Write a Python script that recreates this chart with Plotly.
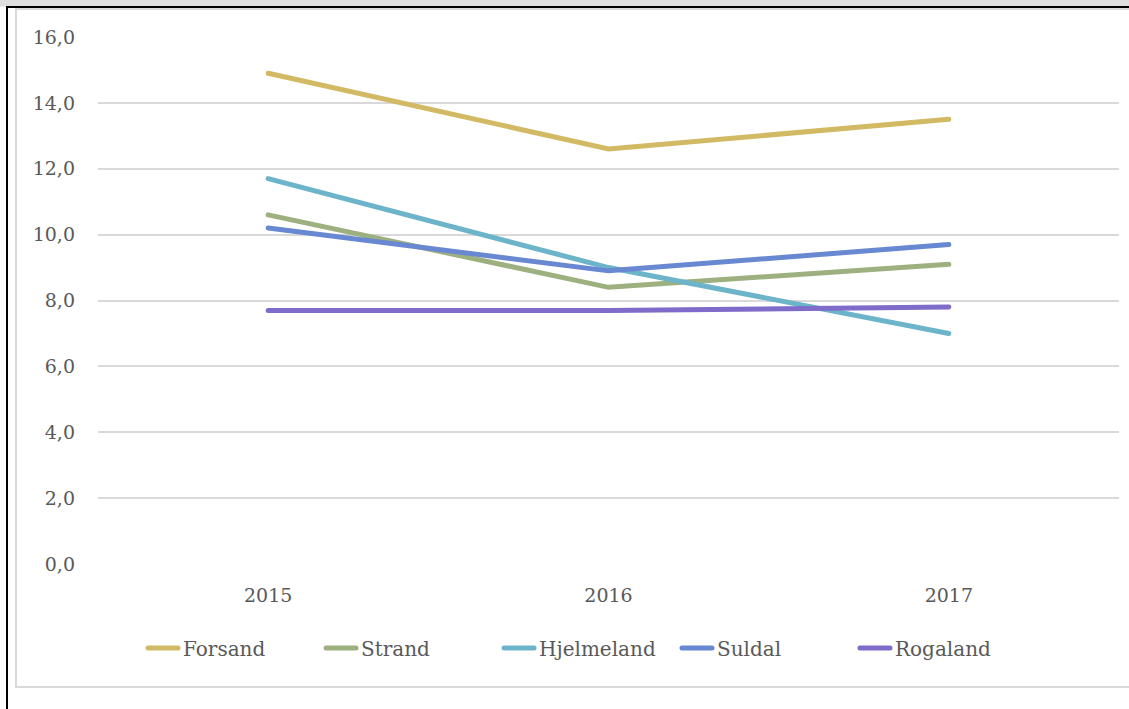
import plotly.graph_objects as go

years = ["2015", "2016", "2017"]
forsand = [14.9, 12.6, 13.5]
strand = [10.6, 8.4, 9.1]
hjelmeland = [11.7, 9.0, 7.0]
suldal = [10.2, 8.9, 9.7]
rogaland = [7.7, 7.7, 7.8]

series = [
    ("Forsand", forsand, "#d2b964"),
    ("Strand", strand, "#9db07f"),
    ("Hjelmeland", hjelmeland, "#6cb4ca"),
    ("Suldal", suldal, "#6888d1"),
    ("Rogaland", rogaland, "#7f6bc9"),
]

W, H = 1129, 709
L, R, T, B = 98, 10, 37, 145
pw = W - L - R
ph = H - T - B

def px(x):
    return (x - L) / pw

def py(y):
    return (H - B - y) / ph

fig = go.Figure()
for name, vals, col in series:
    fig.add_trace(go.Scatter(x=years, y=vals, name=name, mode="lines",
                             line=dict(color=col, width=5)))

FONT = "DejaVu Serif"
shapes = [
    dict(type="rect", xref="paper", yref="paper", x0=px(-5), x1=px(W + 5), y0=py(-5), y1=py(6.5),
         fillcolor="#dedede", line=dict(width=0), layer="below"),
    dict(type="rect", xref="paper", yref="paper", x0=px(16), x1=px(W + 20), y0=py(687), y1=py(9),
         fillcolor="rgba(0,0,0,0)", line=dict(color="#d9d9d9", width=2), layer="below"),
    dict(type="line", xref="paper", yref="paper", x0=px(6), x1=px(W + 5), y0=py(7), y1=py(7),
         line=dict(color="black", width=2)),
    dict(type="line", xref="paper", yref="paper", x0=px(7), x1=px(7), y0=py(6), y1=py(H + 5),
         line=dict(color="black", width=2)),
]

fig.update_layout(
    width=W, height=H,
    margin=dict(l=L, r=R, t=T, b=B),
    paper_bgcolor="white", plot_bgcolor="white",
    font=dict(family=FONT, size=19, color="#595959"),
    showlegend=True,
    legend=dict(orientation="h", x=px(143), xanchor="left", y=py(648), yanchor="middle",
                entrywidth=133, entrywidthmode="pixels",
                font=dict(family=FONT, size=20, color="#595959"), traceorder="normal"),
    xaxis=dict(range=[-0.5, 2.5], showgrid=False, showline=False, ticks="", zeroline=False,
               tickfont=dict(family=FONT, size=19, color="#595959"), ticklabelstandoff=18),
    yaxis=dict(range=[0, 16], dtick=2, tickformat=".1f",
               showgrid=True, gridcolor="#d9d9d9", gridwidth=2, zeroline=False,
               showline=False, ticks="", tickfont=dict(family=FONT, size=19, color="#595959"),
               ticklabelstandoff=22),
    separators=",.",
    shapes=shapes,
)

fig.write_html("out.html", config={"displayModeBar": False},
               post_script="document.body.style.margin='0';document.body.style.overflow='hidden';"
                           "document.querySelectorAll('.scatterlayer path.js-line, .legend path.js-line')"
                           ".forEach(function(p){p.style.strokeLinecap='round';});")
